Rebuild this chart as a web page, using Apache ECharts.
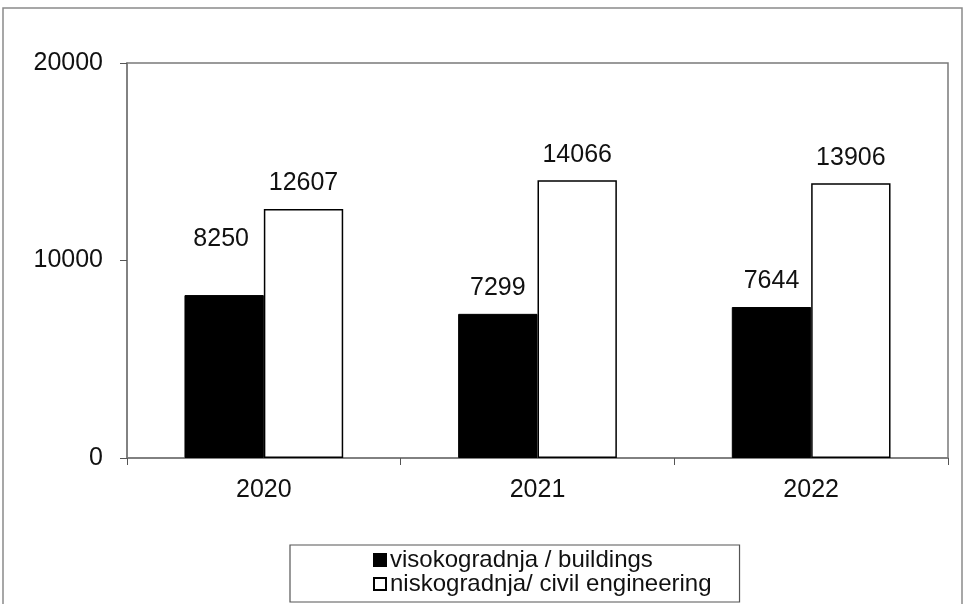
<!DOCTYPE html>
<html>
<head>
<meta charset="utf-8">
<script src="https://cdn.jsdelivr.net/npm/echarts@6/dist/echarts.min.js"></script>
<style>html,body{margin:0;padding:0;background:#fff}#c{width:965px;height:604px}</style>
</head>
<body>
<div id="c"></div>
<script>
const categories = ['2020', '2021', '2022'];
const buildings = [8250, 7299, 7644];
const civil = [12607, 14066, 13906];
const seriesNames = ['visokogradnja / buildings', 'niskogradnja/ civil engineering'];
const yTicks = { min: 0, max: 20000, interval: 10000 };

const FONT = '"Liberation Sans", Arial, sans-serif';
const chart = echarts.init(document.getElementById('c'));
chart.setOption({
  animation: false,
  backgroundColor: '#fff',
  textStyle: { fontFamily: FONT, color: '#111' },
  graphic: [{
    type: 'rect', shape: { x: 3, y: 8, width: 959, height: 640 },
    style: { fill: 'none', stroke: '#8a8a8a', lineWidth: 1.5 }, silent: true, z: -1
  }],
  grid: { left: 127, right: 17, top: 63, bottom: 146, show: true, borderColor: '#7a7a7a', borderWidth: 1.5, backgroundColor: '#fff' },
  legend: {
    orient: 'vertical', left: 290, top: 545,
    padding: [3, 28, 6, 83], itemGap: 0,
    backgroundColor: '#fff', borderColor: '#555', borderWidth: 1.2,
    itemWidth: 12, itemHeight: 12, icon: 'rect',
    textStyle: { fontFamily: FONT, fontSize: 24, lineHeight: 23, color: '#111', padding: [0, 0, 0, -1] },
    data: seriesNames
  },
  xAxis: {
    type: 'category', data: categories,
    axisLine: { lineStyle: { color: '#7a7a7a', width: 1.5 } },
    axisTick: { show: true, length: 7, lineStyle: { color: '#555' } },
    axisLabel: { fontSize: 25, color: '#111', margin: 20, fontFamily: FONT }
  },
  yAxis: {
    type: 'value', min: yTicks.min, max: yTicks.max, interval: yTicks.interval,
    splitLine: { show: false },
    axisLine: { show: true, lineStyle: { color: '#7a7a7a', width: 1.5 } },
    axisTick: { show: true, length: 7, lineStyle: { color: '#555' } },
    axisLabel: { fontSize: 25, color: '#111', margin: 24, fontFamily: FONT, formatter: v => String(v) }
  },
  series: [
    {
      name: seriesNames[0], type: 'bar', barWidth: '29%', barGap: '0%',
      itemStyle: { color: '#000', borderColor: '#000', borderWidth: 1 },
      label: { show: true, position: 'top', distance: 13, fontSize: 25, color: '#111', fontFamily: FONT },
      data: buildings.map((v, i) => i === 0 ? { value: v, label: { offset: [-3, -30] } } : v)
    },
    {
      name: seriesNames[1], type: 'bar', barWidth: '29%', barGap: '0%',
      itemStyle: { color: '#fff', borderColor: '#000', borderWidth: 1.5 },
      label: { show: true, position: 'top', distance: 13, fontSize: 25, color: '#111', fontFamily: FONT },
      data: civil
    }
  ]
});
</script>
</body>
</html>
